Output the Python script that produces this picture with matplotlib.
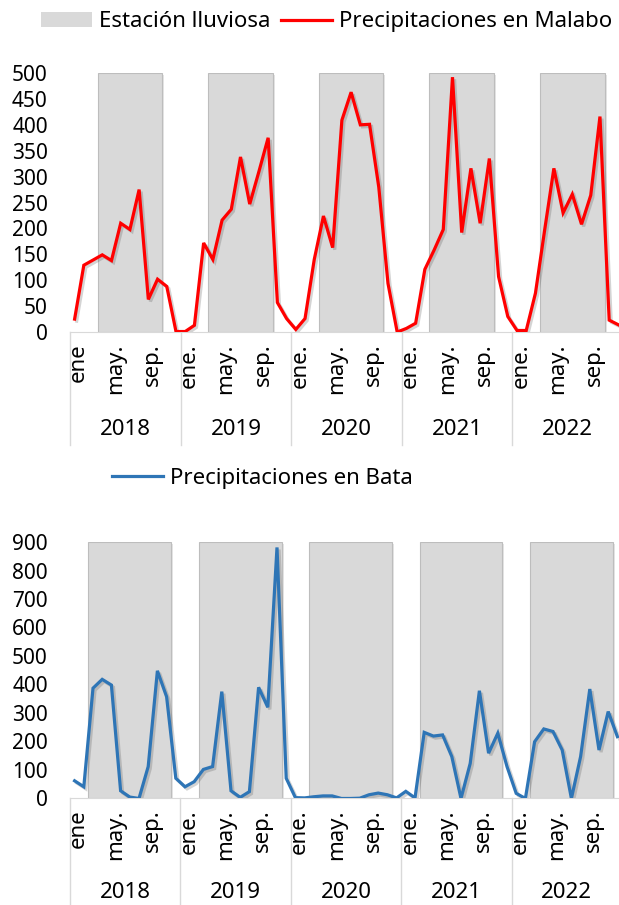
import matplotlib.pyplot as plt
import matplotlib.patheffects as pe
import matplotlib.transforms as mtransforms
from matplotlib.lines import Line2D
from matplotlib.patches import Patch
import numpy as np

plt.rcParams['font.family'] = ['Noto Sans', 'DejaVu Sans']

anios = ["2018", "2019", "2020", "2021", "2022"]
meses_pos = [0, 4, 8]
meses_primero = ["ene", "may.", "sep."]
meses_resto = ["ene.", "may.", "sep."]

# precipitaciones mensuales (mm), ene 2018 - dic 2022
malabo = [25, 129, 139, 149, 138, 210, 198, 275, 63, 102, 88, 1,
          1, 13, 172, 140, 216, 237, 338, 247, 310, 375, 57, 26,
          5, 26, 140, 224, 163, 409, 463, 400, 401, 280, 94, 0,
          7, 17, 121, 158, 198, 492, 192, 316, 210, 335, 107, 30,
          3, 3, 75, 197, 316, 230, 266, 208, 264, 416, 23, 14]
bata = [62, 41, 387, 418, 398, 27, 5, 0, 112, 448, 357, 71,
        41, 59, 102, 112, 375, 27, 4, 24, 390, 320, 881, 71,
        3, 2, 6, 9, 9, 0, 0, 1, 13, 19, 13, 2,
        25, 2, 232, 219, 223, 147, 0, 123, 378, 159, 229, 112,
        18, 0, 199, 244, 235, 170, 0, 147, 384, 170, 305, 217]

# estación lluviosa (mes inicial, mes final)
lluvia_malabo = (4, 10)
lluvia_bata = (3, 11)

GRIS = '#d9d9d9'


def panel(fig, ax, valores, color, ymax, paso, lluvia, baja_div, baja_anio):
    x = np.arange(len(valores)) + 0.5
    ini, fin = lluvia
    for k in range(len(anios)):
        ax.bar(k * 12 + ini - 1, ymax, width=fin - ini + 1, align='edge',
               color=GRIS, edgecolor='#bdbdbd', linewidth=0.8, zorder=1,
               path_effects=[pe.SimplePatchShadow(offset=(1.5, -1.5), shadow_rgbFace='#999999', alpha=0.25),
                             pe.Normal()])
    ax.plot(x, valores, color=color, lw=2.3, zorder=3, solid_joinstyle='miter',
            path_effects=[pe.SimpleLineShadow(offset=(1.5, -1.5), shadow_color='#555555', alpha=0.25),
                          pe.Normal()])
    ax.set_xlim(0, 12 * len(anios))
    ax.set_ylim(0, ymax)
    ax.set_yticks(np.arange(0, ymax + 1, paso))

    pos, etiquetas = [], []
    for k in range(len(anios)):
        nombres = meses_primero if k == 0 else meses_resto
        for p, n in zip(meses_pos, nombres):
            pos.append(k * 12 + p + 0.5)
            etiquetas.append(n)
    ax.set_xticks(pos)
    ax.set_xticklabels(etiquetas, rotation=90)
    ax.tick_params(axis='x', length=0, pad=8, labelsize=16)
    ax.tick_params(axis='y', length=0, pad=16, labelsize=15)
    # las etiquetas de mes van un poco a la derecha del punto
    desplaza = mtransforms.ScaledTranslation(4 / 100, 0, fig.dpi_scale_trans)
    for lbl in ax.get_xticklabels():
        lbl.set_transform(lbl.get_transform() + desplaza)

    for s in ['top', 'right', 'left']:
        ax.spines[s].set_visible(False)
    ax.spines['bottom'].set_color(GRIS)

    trans = ax.get_xaxis_transform()
    for k in range(len(anios) + 1):
        ax.plot([k * 12, k * 12], [0, baja_div], transform=trans,
                color=GRIS, lw=1, clip_on=False)
    for k, a in enumerate(anios):
        ax.text(k * 12 + 6, baja_anio, a, transform=trans, ha='center',
                va='center', fontsize=16)


fig = plt.figure(figsize=(6.19, 9.05), dpi=100)
ax1 = fig.add_axes([70 / 619, 0.6331, 553 / 619, 0.2862])
ax2 = fig.add_axes([70 / 619, 0.1177, 552 / 619, 0.2834])

panel(fig, ax1, malabo, '#ff0000', 500, 50, lluvia_malabo, -0.436, -0.378)
panel(fig, ax2, bata, '#2e75b6', 900, 100, lluvia_bata, -0.45, -0.368)

fig.legend([Patch(facecolor=GRIS, edgecolor='none'),
            Line2D([], [], color='#ff0000', lw=2.3)],
           ["Estación lluviosa", "Precipitaciones en Malabo"],
           loc='center', bbox_to_anchor=(0.5275, 0.9757), ncol=2, frameon=False,
           fontsize=16, handlelength=2.3, handletextpad=0.3, columnspacing=0.5)
fig.legend([Line2D([], [], color='#2e75b6', lw=2.3)],
           ["Precipitaciones en Bata"],
           loc='center', bbox_to_anchor=(0.424, 0.4718), frameon=False,
           fontsize=16, handlelength=2.3, handletextpad=0.3)

fig.savefig('out.png', dpi=100)
